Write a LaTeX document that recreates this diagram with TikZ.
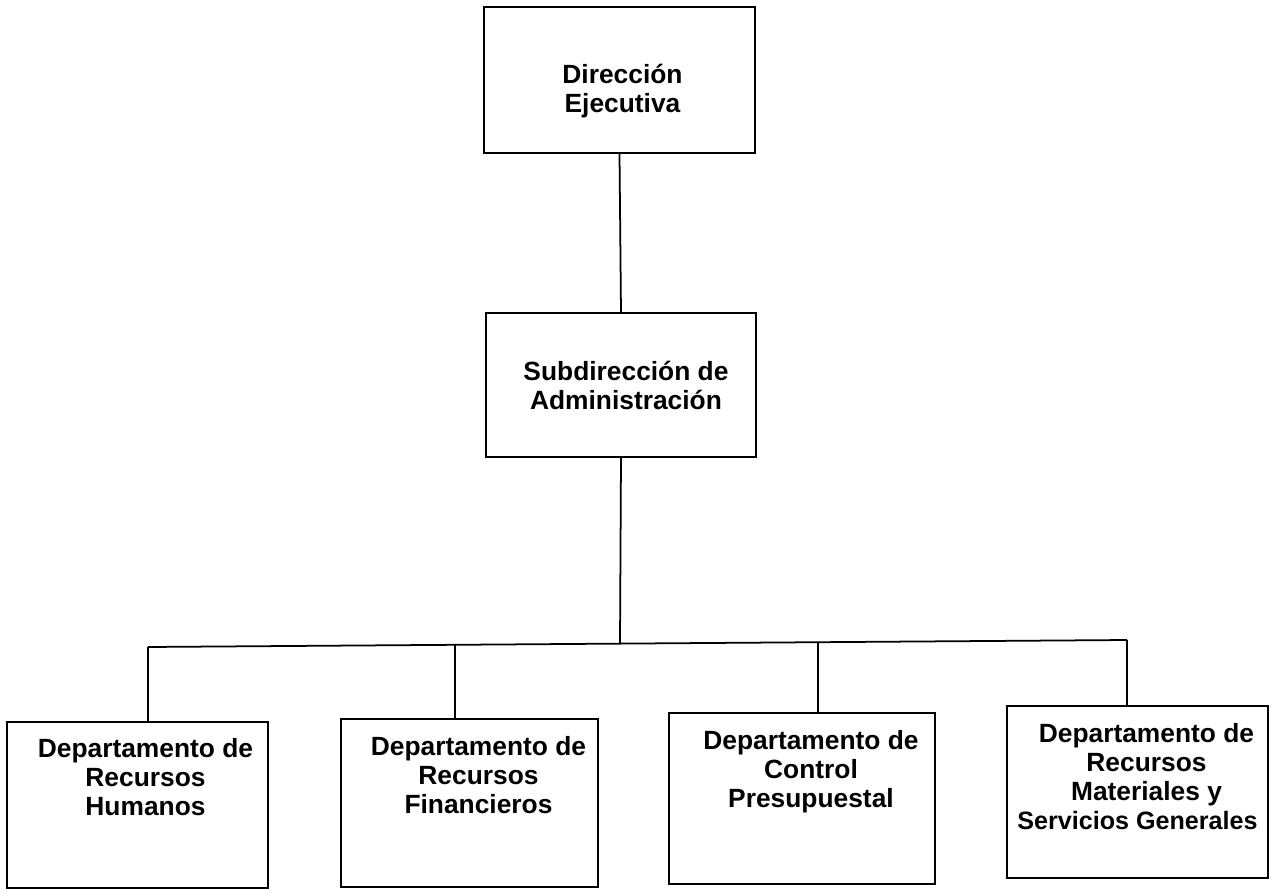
\documentclass[tikz,border=0pt]{standalone}
\usepackage{fontspec}
\setmainfont{Liberation Sans}
\begin{document}
\begin{tikzpicture}[x=0.02cm,y=-0.02cm,
  box/.style={draw, line width=1pt, inner sep=0pt, rectangle},
  txt/.style={font=\bfseries\fontsize{15}{16.5}\selectfont, align=center, inner sep=0pt},
  conn/.style={line width=1pt}]
\useasboundingbox (0,0) rectangle (1279,889);
% boxes
\node[box, minimum width=5.42cm, minimum height=2.92cm] (top) at (619.5,80) {};
\node[box, minimum width=5.40cm, minimum height=2.88cm] (mid) at (621,385) {};
\node[box, minimum width=5.22cm, minimum height=3.32cm] (b1) at (137.5,805) {};
\node[box, minimum width=5.14cm, minimum height=3.36cm] (b2) at (469.5,803) {};
\node[box, minimum width=5.32cm, minimum height=3.42cm] (b3) at (802,798.5) {};
\node[box, minimum width=5.22cm, minimum height=3.44cm] (b4) at (1137.5,792) {};
% texts
\node[txt] (ttop) at ([xshift=0.06cm,yshift=-0.22cm]top.center) {Dirección\\Ejecutiva};
\node[txt] (tmid) at ([xshift=0.1cm]mid.center) {Subdirección de\\Administración};
\node[txt, anchor=north] (tb1) at ([xshift=0.16cm,yshift=-0.34cm]b1.north) {Departamento de\\Recursos\\Humanos};
\node[txt, anchor=north] (tb2) at ([xshift=0.18cm,yshift=-0.36cm]b2.north) {Departamento de\\Recursos\\Financieros};
\node[txt, anchor=north] (tb3) at ([xshift=0.18cm,yshift=-0.36cm]b3.north) {Departamento de\\Control\\Presupuestal};
\node[txt, anchor=north] (tb4) at ([xshift=0.18cm,yshift=-0.36cm]b4.north) {Departamento de\\Recursos\\Materiales y\\{\fontsize{14.3}{15.5}\selectfont\hspace*{-0.36cm}Servicios Generales}};
% bus
\coordinate (busL) at (148,647);
\coordinate (busR) at (1127,640);
\coordinate (busM) at (620,643.6);
\coordinate (bus2) at (455,645);
\coordinate (bus3) at (818,642.2);
% connectors
\draw[conn] (top.south) -- (mid.north);
\draw[conn] (mid.south) -- (busM);
\draw[conn] (busL) -- (busR);
\draw[conn] (busL) -- (busL |- b1.north);
\draw[conn] (bus2) -- (bus2 |- b2.north);
\draw[conn] (bus3) -- (bus3 |- b3.north);
\draw[conn] (busR) -- (busR |- b4.north);
\end{tikzpicture}
\end{document}
